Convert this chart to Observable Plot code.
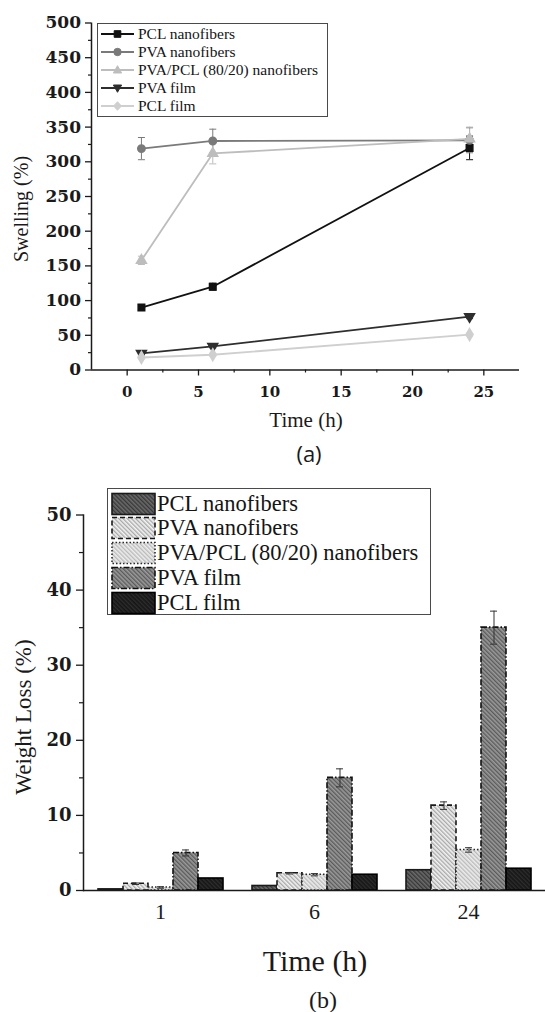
<!DOCTYPE html>
<html><head><meta charset="utf-8">
<script src="https://cdn.jsdelivr.net/npm/d3@7"></script>
<script src="https://cdn.jsdelivr.net/npm/@observablehq/plot@0.6"></script>
<style>
body{margin:0;background:#fff;}
#wrap{position:relative;width:545px;height:1012px;overflow:hidden;font-family:"Liberation Serif",serif;color:#1a1a1a;background:#fff;}
.abs{position:absolute;white-space:nowrap;line-height:1;}
</style></head><body>
<svg width="0" height="0" style="position:absolute">
<defs id="pats"></defs>
</svg>
<div id="wrap"></div>
<script>
// ---------------- data ----------------
const seriesNames = ["PCL nanofibers", "PVA nanofibers", "PVA/PCL (80/20) nanofibers", "PVA film", "PCL film"];

// (a) swelling vs time
const times = [1, 6, 24];
const swellPCLnano = [90, 120, 320];
const swellPVAnano = [319, 330, 331];
const swellBlend   = [158, 312, 333];
const swellPVAfilm = [24, 34, 77];
const swellPCLfilm = [18, 22, 51];
const swellErrPCLnano = [4, 5, 17];
const swellErrPVAnano = [16, 17, 18];
const swellErrBlend   = [6, 15, 17];
const swellErrPVAfilm = [2, 2, 3];
const swellErrPCLfilm = [2, 2, 2];
const xDomainA = [-2.5, 27.5];
const yDomainA = [0, 500];
const xTicksA = [0, 5, 10, 15, 20, 25];
const xMinorA = [2.5, 7.5, 12.5, 17.5, 22.5];
const yTicksA = [0, 50, 100, 150, 200, 250, 300, 350, 400, 450, 500];
const yMinorA = [25, 75, 125, 175, 225, 275, 325, 375, 425, 475];

// (b) weight loss
const timeLabels = ["1", "6", "24"];
const lossPCLnano = [0.15, 0.6, 2.7];
const lossPVAnano = [0.9, 2.3, 11.3];
const lossBlend   = [0.4, 2.1, 5.4];
const lossPVAfilm = [5.0, 15.0, 35.0];
const lossPCLfilm = [1.6, 2.1, 2.9];
const lossErrPCLnano = [0, 0, 0];
const lossErrPVAnano = [0.1, 0.1, 0.5];
const lossErrBlend   = [0.1, 0.15, 0.3];
const lossErrPVAfilm = [0.4, 1.2, 2.2];
const lossErrPCLfilm = [0, 0, 0];
const yDomainB = [0, 50];
const yTicksB = [0, 10, 20, 30, 40, 50];
const yMinorB = [5, 15, 25, 35, 45];

// ---------------- styles ----------------
const lineColors = ["#111111", "#7a7a7a", "#bdbdbd", "#2e2e2e", "#cfcfcf"];
const symbolsA = ["square", "circle", "triangle", "triangle", "diamond"];
const rotA = [0, 0, 0, 180, 0];
const patBg   = ["#6b6b6b", "#f3f3f3", "#ededed", "#9a9a9a", "#161616"];
const patLine = ["#353535", "#a6a6a6", "#b8b8b8", "#585858", "#2e2e2e"];
const barStroke = ["#1a1a1a", "#1a1a1a", "#2a2a2a", "#111111", "#000000"];
const barDash = [null, "5,3", "1.5,2", "6,2,1.5,2", null];

// patterns
const defs = document.getElementById("pats");
patBg.forEach((bg, i) => {
  const s = 3;
  defs.insertAdjacentHTML("beforeend",
    `<pattern id="pat${i}" patternUnits="userSpaceOnUse" width="${s}" height="${s}" patternTransform="rotate(-45)">
       <rect width="${s}" height="${s}" fill="${bg}"/>
       <line x1="0.7" y1="0" x2="0.7" y2="${s}" stroke="${patLine[i]}" stroke-width="1.3"/>
     </pattern>`);
});

const wrap = document.getElementById("wrap");
function addText(txt, x, y, css, rotate) {
  const d = document.createElement("div");
  d.className = "abs";
  d.style.left = x + "px"; d.style.top = y + "px";
  d.style.transform = "translate(-50%,-50%)" + (rotate ? " rotate(-90deg)" : "");
  Object.assign(d.style, css || {});
  d.textContent = txt;
  wrap.appendChild(d);
  return d;
}

// ---------------- chart (a) ----------------
const swellVals = [swellPCLnano, swellPVAnano, swellBlend, swellPVAfilm, swellPCLfilm];
const swellErrs = [swellErrPCLnano, swellErrPVAnano, swellErrBlend, swellErrPVAfilm, swellErrPCLfilm];
const rowsA = [];
seriesNames.forEach((s, i) => times.forEach((t, j) => rowsA.push({series: s, time: t, value: swellVals[i][j], err: swellErrs[i][j], rot: rotA[i]})));
const capsA = rowsA.flatMap(d => [{...d, y: d.value - d.err}, {...d, y: d.value + d.err}]);
const hline = {draw(ctx, size) { const r = Math.sqrt(size / Math.PI); ctx.moveTo(-r, 0); ctx.lineTo(r, 0); }};

const tickFontA = {fontFamily: "DejaVu Serif", fontWeight: "bold"};
const chartA = Plot.plot({
  width: 545, height: 445,
  marginTop: 22.5, marginBottom: 75.5, marginLeft: 91, marginRight: 26,
  style: {background: "transparent", color: "#1a1a1a"},
  x: {domain: xDomainA},
  y: {domain: yDomainA},
  color: {domain: seriesNames, range: lineColors},
  symbol: {domain: seriesNames, range: symbolsA},
  marks: [
    Plot.axisY({ticks: yTicksA, tickSize: 6, tickPadding: 4.5, label: null, fontSize: 17, ...tickFontA, strokeWidth: 1.3}),
    Plot.axisY({ticks: yMinorA, tickSize: 3, tickFormat: () => "", label: null, strokeWidth: 1.2}),
    Plot.axisX({ticks: xTicksA, tickSize: 6, tickPadding: 10, label: null, fontSize: 15, ...tickFontA, strokeWidth: 1.3}),
    Plot.axisX({ticks: xMinorA, tickSize: 3, tickFormat: () => "", label: null, strokeWidth: 1.2}),
    Plot.ruleX([xDomainA[0]], {stroke: "#1a1a1a", strokeWidth: 1.5}),
    Plot.ruleY([yDomainA[0]], {stroke: "#1a1a1a", strokeWidth: 1.5}),
    Plot.ruleX(rowsA, {x: "time", y1: d => d.value - d.err, y2: d => d.value + d.err, stroke: "series", strokeWidth: 1}),
    Plot.dot(capsA, {x: "time", y: "y", symbol: hline, r: 3.5, stroke: "series", fill: "none", strokeWidth: 1}),
    Plot.line(rowsA, {x: "time", y: "value", z: "series", stroke: "series", strokeWidth: 1.8}),
    Plot.dot(rowsA, {x: "time", y: "value", symbol: "series", fill: "series", stroke: "series", r: 3.7, rotate: "rot"})
  ]
});
chartA.style.position = "absolute"; chartA.style.left = "0px"; chartA.style.top = "0px";
wrap.appendChild(chartA);

addText("Swelling (%)", 21, 209, {fontSize: "20px"}, true);
addText("Time (h)", 306, 420, {fontSize: "21px"});
addText("(a)", 309, 453, {fontSize: "22px", fontFamily: "'Open Sans', sans-serif"});

// legend (a)
const legA = document.createElement("div");
legA.className = "abs";
Object.assign(legA.style, {left: "97px", top: "23px", width: "231px", height: "94px", border: "1.3px solid #4a4a4a", boxSizing: "border-box"});
wrap.appendChild(legA);
const symPath = {
  square: "M-3.3,-3.3h6.6v6.6h-6.6z",
  circle: "M3.7,0A3.7,3.7 0 1 1 -3.7,0A3.7,3.7 0 1 1 3.7,0z",
  triangle: "M0,-4.3L4.1,3H-4.1z",
  diamond: "M0,-4.3L3.9,0L0,4.3L-3.9,0z"
};
seriesNames.forEach((s, i) => {
  const cy = 34 + i * 18;
  const sv = document.createElementNS("http://www.w3.org/2000/svg", "svg");
  sv.setAttribute("width", 36); sv.setAttribute("height", 14);
  sv.style.position = "absolute"; sv.style.left = "100px"; sv.style.top = (cy - 7) + "px";
  sv.innerHTML = `<line x1="1" y1="7" x2="34" y2="7" stroke="${lineColors[i]}" stroke-width="1.8"/>
    <path d="${symPath[symbolsA[i]]}" transform="translate(17.5,7) rotate(${rotA[i]})" fill="${lineColors[i]}" stroke="${lineColors[i]}"/>`;
  wrap.appendChild(sv);
  const t = addText(s, 138, cy, {fontSize: "15.5px", color: "#151515"});
  t.style.transform = "translate(0,-50%)";
});

// ---------------- chart (b) ----------------
const lossVals = [lossPCLnano, lossPVAnano, lossBlend, lossPVAfilm, lossPCLfilm];
const lossErrs = [lossErrPCLnano, lossErrPVAnano, lossErrBlend, lossErrPVAfilm, lossErrPCLfilm];
const rowsB = [];
seriesNames.forEach((s, i) => timeLabels.forEach((t, j) => rowsB.push({series: s, time: t, value: lossVals[i][j], err: lossErrs[i][j]})));
const errB = rowsB.filter(d => d.err > 0);

const tickFontB = {fontFamily: "DejaVu Serif", fontWeight: "bold"};
const chartB = Plot.plot({
  width: 545, height: 440,
  marginTop: 14.5, marginBottom: 50, marginLeft: 82, marginRight: 0,
  style: {background: "transparent", color: "#1a1a1a"},
  fx: {domain: timeLabels, paddingInner: 0, paddingOuter: 0, label: null},
  x: {domain: seriesNames, paddingInner: 0, paddingOuter: 0.574, axis: null},
  y: {domain: yDomainB},
  marks: [
    Plot.axisY({ticks: yTicksB, tickSize: 7, tickPadding: 5, label: null, fontSize: 18, ...tickFontB, strokeWidth: 1.3}),
    Plot.axisY({ticks: yMinorB, tickSize: 4, tickFormat: () => "", label: null, strokeWidth: 1.2}),
    Plot.axisFx({anchor: "bottom", tickSize: 0, tickPadding: 13, label: null, fontSize: 22, fontFamily: "Liberation Serif"}),
    ...seriesNames.map((s, i) => Plot.barY(rowsB.filter(d => d.series === s), {
      fx: "time", x: "series", y: "value", fill: `url(#pat${i})`, stroke: barStroke[i], strokeWidth: 1.6,
      strokeDasharray: barDash[i] || undefined
    })),
    Plot.ruleX(errB, {fx: "time", x: "series", y1: d => d.value - d.err, y2: d => d.value + d.err, stroke: "#333", strokeWidth: 1}),
    Plot.tickY(errB, {fx: "time", x: "series", y: d => d.value + d.err, inset: 9, stroke: "#333", strokeWidth: 1}),
    Plot.tickY(errB, {fx: "time", x: "series", y: d => d.value - d.err, inset: 9, stroke: "#333", strokeWidth: 1}),
    Plot.ruleY([yDomainB[0]], {stroke: "#1a1a1a", strokeWidth: 1.6}),
    Plot.frame({anchor: "left", facetAnchor: "left", stroke: "#1a1a1a", strokeWidth: 1.5})
  ]
});
chartB.style.position = "absolute"; chartB.style.left = "0px"; chartB.style.top = "500px";
wrap.appendChild(chartB);

addText("Weight Loss (%)", 22.5, 717, {fontSize: "23px"}, true);
addText("Time (h)", 315, 961, {fontSize: "30px"});
addText("(b)", 323, 999.5, {fontSize: "24px"});

// legend (b)
const legB = document.createElement("div");
legB.className = "abs";
Object.assign(legB.style, {left: "107px", top: "488px", width: "324px", height: "127px", border: "1.3px solid #4a4a4a", boxSizing: "border-box", background: "#fff"});
wrap.appendChild(legB);
seriesNames.forEach((s, i) => {
  const cy = 503.5 + i * 24.75;
  const sv = document.createElementNS("http://www.w3.org/2000/svg", "svg");
  sv.setAttribute("width", 45); sv.setAttribute("height", 24);
  sv.style.position = "absolute"; sv.style.left = "111px"; sv.style.top = (cy - 12) + "px";
  sv.innerHTML = `<rect x="1" y="1.5" width="43" height="21" fill="url(#pat${i})" stroke="${barStroke[i]}" stroke-width="1.6" ${barDash[i] ? `stroke-dasharray="${barDash[i]}"` : ""}/>`;
  wrap.appendChild(sv);
  const t = addText(s, 157, cy, {fontSize: "22.5px", color: "#151515"});
  t.style.transform = "translate(0,-50%)";
});
</script>
</body></html>
